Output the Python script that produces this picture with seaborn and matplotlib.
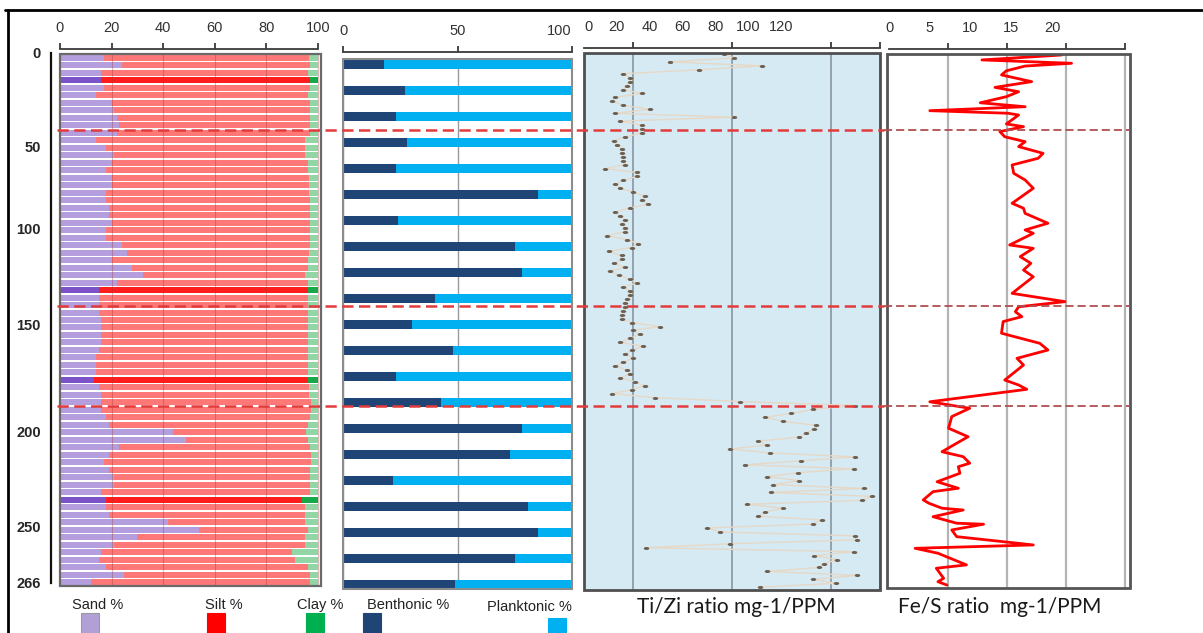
import numpy as np
import pandas as pd
import matplotlib
matplotlib.use("Agg")
import matplotlib.pyplot as plt
import seaborn as sns
from matplotlib.lines import Line2D
from matplotlib.patches import Rectangle
from matplotlib.path import Path
from matplotlib.transforms import blended_transform_factory

# ---------------- grain size, one row per sample interval (top -> bottom) -------------
sand_pct = [17, 24, 16, 16, 17, 14, 20, 21, 22, 23,
            22, 14, 18, 21, 20, 18, 20, 20, 18, 18,
            19, 19, 20, 18, 18, 24, 26, 20, 28, 32,
            22, 15, 15, 15, 15, 16, 16, 16, 16, 15,
            14, 14, 14, 13, 15, 16, 16, 16, 18, 19,
            44, 49, 23, 19, 17, 19, 21, 21, 16, 18,
            18, 19, 42, 54, 30, 21, 16, 15, 18, 25,
            12]
clay_pct = [3.5, 3, 4, 3, 3, 4, 3, 3, 3, 3,
            3, 5, 5, 5, 4, 4, 3.5, 3.5, 3.5, 3,
            3, 3, 3, 3, 3, 3, 3.5, 4, 4, 5,
            4, 4, 4, 4, 4, 4, 4, 4, 4, 4,
            4, 4, 4, 4, 3.5, 3.5, 2.5, 2.5, 3, 4,
            4.5, 4, 3, 2.5, 2.5, 3, 3, 3, 3, 6,
            5, 5, 5, 4, 5, 5, 10, 9, 4, 3,
            3]
dark_rows = [3, 31, 43, 59]

# ---------------- foraminifera counts per level -------------
benthonic_pct = [18, 27, 23, 28, 23, 85, 24, 75, 78, 40,
                 30, 48, 23, 43, 78, 73, 22, 81, 85, 75, 49]

# ---------------- Ti/Zr ratio, sampled every 2 cm -------------
tizr_ratio = [85, 91, 52, 108, 70, 24, 28, 28, 26, 24,
              35, 19, 17, 24, 40, 19, 91, 22, 35, 35,
              35, 25, 18, 20, 23, 23, 24, 24, 25, 13,
              32, 32, 24, 19, 22, 30, 37, 35, 39, 28,
              19, 22, 25, 23, 25, 25, 14, 26, 33, 29,
              15, 23, 23, 18, 25, 16, 21, 28, 32, 24,
              28, 28, 26, 25, 25, 24, 23, 23, 29, 46,
              30, 34, 28, 22, 36, 29, 25, 30, 24, 19,
              26, 28, 22, 31, 37, 29, 17, 43, 95, 165,
              139, 126, 110, 121, 141, 140, 135, 131, 106, 111,
              89, 113, 165, 132, 98, 164, 130, 111, 131, 115,
              170, 114, 175, 169, 99, 121, 110, 106, 145, 139,
              75, 83, 165, 166, 89, 38, 164, 140, 154, 146,
              143, 111, 166, 139, 153, 107]
tizr_step_cm = 2

# ---------------- Fe/S ratio -------------
fes_depth = [0.5, 3.0, 4.7, 6.1, 8.5, 10.6, 14.0, 16.9, 19.1, 21.6,
             24.7, 26.7, 28.7, 30.0, 30.9, 35.4, 36.8, 39.3, 41.9, 44.4,
             46.9, 50.3, 52.8, 56.2, 60.4, 63.8, 68.0, 75.6, 78.1, 80.7,
             85.7, 89.1, 90.8, 96.7, 98.4, 102.6, 106.0, 109.4, 112.8, 121.2,
             125.4, 128.0, 130.5, 133.0, 135.5, 141.4, 146.5, 149.9, 154.1, 157.5,
             165.1, 167.6, 169.8, 176.1, 179.4, 183.6, 189.5, 193.8, 197.1, 201.4,
             203.9, 207.2, 209.0, 212.3, 216.6, 219.9, 221.6, 225.8, 227.5, 230.0,
             230.9, 234.3, 237.6, 238.1, 241.0, 244.4, 248.6, 250.3, 252.8, 258.7,
             260.4, 265.5, 267.2, 268.9]
fes_ratio = [21.2, 11.4, 22.4, 16.7, 14.4, 13.8, 17.5, 13.0, 15.9, 14.4,
             11.2, 16.7, 5.0, 14.6, 15.9, 14.4, 16.5, 13.6, 14.2, 16.7,
             15.9, 18.9, 18.3, 15.1, 15.3, 16.7, 17.7, 15.1, 16.5, 16.7,
             19.5, 16.7, 17.7, 14.8, 17.7, 16.1, 17.4, 16.5, 17.7, 15.1,
             21.6, 15.9, 15.5, 16.3, 14.0, 13.8, 18.5, 19.5, 15.7, 16.5,
             14.2, 15.9, 16.9, 5.0, 9.9, 7.7, 7.3, 9.7, 8.3, 6.5,
             9.1, 9.9, 8.5, 8.7, 5.9, 8.5, 5.4, 4.2, 4.9, 6.5,
             9.1, 5.4, 8.3, 11.6, 7.7, 8.3, 17.7, 3.2, 6.0, 9.5,
             5.8, 6.7, 6.0, 7.1]

# ---------------- core depth axis (cm) -------------
depth_ticks = [0, 50, 100, 150, 200, 250, 266]
depth_minor = [25, 75, 125, 175, 225]
boundary_depths = [39, 140, 186]

grain_ticks = [0, 20, 40, 60, 80, 100]
foram_ticks = [0, 50, 100]
tizr_labels = [0, 20, 40, 60, 80, 100, 120]
fes_labels = [0, 5, 10, 15, 20]

# ======================================================================
sns.set_style("white")
plt.rcParams["font.family"] = ["Liberation Sans", "DejaVu Sans"]

W, H = 1203, 633
fig = plt.figure(figsize=(W / 100, H / 100), dpi=100)
PT = 0.72  # points per pixel at 100 dpi


def px_axes(x0, y0, x1, y1):
    return fig.add_axes([x0 / W, 1 - y1 / H, (x1 - x0) / W, (y1 - y0) / H])


def top_axis(ax, offset_px, lo, hi, frame_color, frame_lw):
    for s in ("left", "right", "bottom"):
        ax.spines[s].set_visible(False)
    ax.spines["top"].set_position(("outward", offset_px * PT))
    ax.spines["top"].set_bounds(lo, hi)
    ax.spines["top"].set_color("#3a3a3a")
    ax.spines["top"].set_linewidth(1.3)
    ax.xaxis.tick_top()
    ax.tick_params(axis="x", which="both", direction="out", length=6 * PT,
                   width=1.3, color="#3a3a3a", labelsize=10.5,
                   labelcolor="#333333", pad=6)
    ax.set_yticks([])
    ax.set_xlabel("")
    ax.set_ylabel("")
    ax.add_patch(Rectangle((0, 0), 1, 1, transform=ax.transAxes, fill=False,
                           ec=frame_color, lw=frame_lw, clip_on=False, zorder=10))


# ---------------- panel 1: sand / silt / clay -------------
ax1 = px_axes(60, 54, 321, 586)
rows = list(range(len(sand_pct)))
grain = pd.DataFrame({"row": rows, "sand": sand_pct, "clay": clay_pct})
grain["silt"] = 100 - grain["sand"] - grain["clay"]
grain["sand_silt"] = grain["sand"] + grain["silt"]
grain["total"] = grain["sand_silt"] + grain["clay"]
grain["tone"] = np.where(grain["row"].isin(dark_rows), "dark", "light")

layers = [("total", {"light": "#93d6a6", "dark": "#17a84a"}),
          ("sand_silt", {"light": "#ff7878", "dark": "#ff1c1c"}),
          ("sand", {"light": "#b49edd", "dark": "#7c52c8"})]
for col, pal in layers:
    sns.barplot(data=grain, x=col, y="row", hue="tone", palette=pal,
                hue_order=["light", "dark"], order=rows, dodge=False,
                orient="h", width=0.8, saturation=1, errorbar=None,
                linewidth=0, legend=False, ax=ax1)
ax1.set_xlim(0, 101.2)
ax1.set_ylim(len(rows) - 0.5, -0.5)
ax1.set_xticks(grain_ticks)
ax1.set_axisbelow(False)
ax1.grid(axis="x", color="#9c3a3a", alpha=0.35, lw=0.8)
ax1.grid(axis="y", visible=False)
top_axis(ax1, 5, 0, 100, "#6a6a6a", 1.6)

# ---------------- depth axis -------------
knots_depth = [0, 25, 50, 75, 100, 125, 150, 175, 200, 225, 250, 266]
knots_pos = [0, 0.104, 0.177, 0.251, 0.332, 0.425, 0.513, 0.628, 0.715, 0.800, 0.894, 1.0]
ax_d = px_axes(51, 53, 52, 583)
ax_d.set_yscale("function", functions=(lambda d: np.interp(d, knots_depth, knots_pos),
                                       lambda p: np.interp(p, knots_pos, knots_depth)))
ax_d.set_ylim(266, 0)
ax_d.patch.set_visible(False)
for s in ("top", "right", "bottom"):
    ax_d.spines[s].set_visible(False)
ax_d.spines["left"].set_linewidth(1.6)
ax_d.spines["left"].set_color("#111111")
ax_d.set_xticks([])
ax_d.set_yticks(depth_ticks, labels=[str(t) for t in depth_ticks])
ax_d.set_yticks(depth_minor, minor=True)
ax_d.tick_params(axis="y", which="both", direction="out", length=8 * PT,
                 width=1.6, color="#111111", pad=1.5)
for lab in ax_d.get_yticklabels():
    lab.set_family(["Liberation Sans Narrow", "Liberation Sans"])
    lab.set_fontweight("bold")
    lab.set_fontsize(10.5)

# ---------------- panel 2: benthonic / planktonic -------------
ax2 = px_axes(343, 59, 572, 589)
levels = list(range(len(benthonic_pct)))
foram = pd.DataFrame({"level": levels, "benthonic": benthonic_pct})
foram["planktonic"] = 100 - foram["benthonic"]
foram["total"] = foram["benthonic"] + foram["planktonic"]
sns.barplot(data=foram, x="total", y="level", order=levels, orient="h",
            color="#00b0f0", width=0.35, saturation=1, errorbar=None,
            linewidth=0, ax=ax2)
sns.barplot(data=foram, x="benthonic", y="level", order=levels, orient="h",
            color="#1f4577", width=0.35, saturation=1, errorbar=None,
            linewidth=0, ax=ax2)
ax2.set_xlim(0, 100)
ax2.set_ylim(20.17, -0.21)
ax2.set_xticks(foram_ticks)
ax2.set_axisbelow(True)
ax2.grid(axis="x", color="#9a9a9a", lw=1.0)
ax2.grid(axis="y", visible=False)
top_axis(ax2, 7, 0, 100, "#8c8c8c", 1.5)
ax2.get_xticklabels()[-1].set_horizontalalignment("right")

# ---------------- panel 3: Ti/Zr -------------
ax3 = px_axes(584, 53, 880, 590)
ax3.set_facecolor("#d6eaf4")
tizr_depth = np.arange(len(tizr_ratio)) * tizr_step_cm
theta = np.linspace(0, 2 * np.pi, 25)
ellipse = Path(np.column_stack([np.cos(theta), 0.55 * np.sin(theta)]))
sns.lineplot(x=tizr_ratio, y=tizr_depth, sort=False, estimator=None, orient="y",
             color="#e6d8c6", lw=1.0, ax=ax3, zorder=3)
sns.scatterplot(x=tizr_ratio, y=tizr_depth, color="#6e6050", s=16, marker=ellipse,
                linewidth=0, ax=ax3, zorder=4)
ax3.set_xlim(0, 180)
ax3.set_ylim(271.4, -0.5)
ax3.set_xticks(tizr_labels)
ax3.set_xticks(np.arange(0, 181, 30), minor=True)
ax3.grid(which="minor", axis="x", color="#8d9ca8", lw=1.3)
ax3.grid(which="major", visible=False)
top_axis(ax3, 5, 0, 180, "#4f4f4f", 2.0)
ax3.tick_params(axis="x", which="major", length=0, pad=6 + 6 * PT)
ax3.get_xticklabels()[0].set_horizontalalignment("left")

# ---------------- panel 4: Fe/S -------------
ax4 = px_axes(887, 54, 1130, 588)
sns.lineplot(x=fes_ratio, y=fes_depth, sort=False, estimator=None, orient="y",
             color="#ff0000", lw=2.0, ax=ax4, zorder=4)
ax4.set_xlim(-0.25, 29.57)
ax4.set_ylim(270.4, 0)
ax4.set_xticks(fes_labels)
ax4.set_xticks([0, 7.25, 14.5, 21.75, 29], minor=True)
ax4.grid(which="minor", axis="x", color="#b4b4b4", lw=1.6)
ax4.grid(which="major", visible=False)
top_axis(ax4, 5, 0, 29, "#555555", 2.0)
ax4.tick_params(axis="x", which="major", length=0, pad=6 + 6 * PT)

# ---------------- zone boundaries across all panels -------------
trans = blended_transform_factory(fig.transFigure, ax_d.transData)
for d in boundary_depths:
    fig.add_artist(Line2D([57 / W, 884 / W], [d, d], transform=trans,
                          color="#e23b3b", lw=1.8, dashes=(4.5, 2.2), zorder=20))
    fig.add_artist(Line2D([884 / W, 1130 / W], [d, d], transform=trans,
                          color="#b24e50", lw=1.3, dashes=(4.5, 2.2), zorder=20))

# ---------------- legend row and panel titles -------------
legend_items = [("Sand %", 98, 605, "#b1a0d6", 81, 613),
                ("Silt %", 224, 605, "#ff0000", 207, 613),
                ("Clay %", 320, 605, "#00b050", 306, 613),
                ("Benthonic %", 408, 605, "#1f4577", 363, 613),
                ("Planktonic %", 529, 607, "#00b0f0", 548, 618)]
for label, tx, ty, col, sx, sy in legend_items:
    fig.text(tx / W, 1 - ty / H, label, ha="center", va="center",
             fontsize=10.5, color="#222222")
    fig.add_artist(Rectangle((sx / W, 1 - (sy + 20) / H), 18 / W, 20 / H,
                             transform=fig.transFigure, fc=col,
                             ec="#9a9a9a" if label == "Sand %" else col, lw=0.8))

title_font = ["Lato", "DejaVu Sans"]
fig.text(736 / W, 1 - 607 / H, "Ti/Zi ratio mg-1/PPM", ha="center", va="center",
         fontsize=15, family=title_font, color="#1a1a1a")
fig.text(1000 / W, 1 - 607 / H, "Fe/S ratio  mg-1/PPM", ha="center", va="center",
         fontsize=15, family=title_font, color="#1a1a1a")

# outer frame
fig.add_artist(Line2D([5 / W, 1], [1 - 10 / H, 1 - 10 / H], transform=fig.transFigure,
                      color="black", lw=2))
fig.add_artist(Line2D([8 / W, 8 / W], [0, 1 - 10 / H], transform=fig.transFigure,
                      color="black", lw=2))

fig.savefig("out.png", dpi=100)
